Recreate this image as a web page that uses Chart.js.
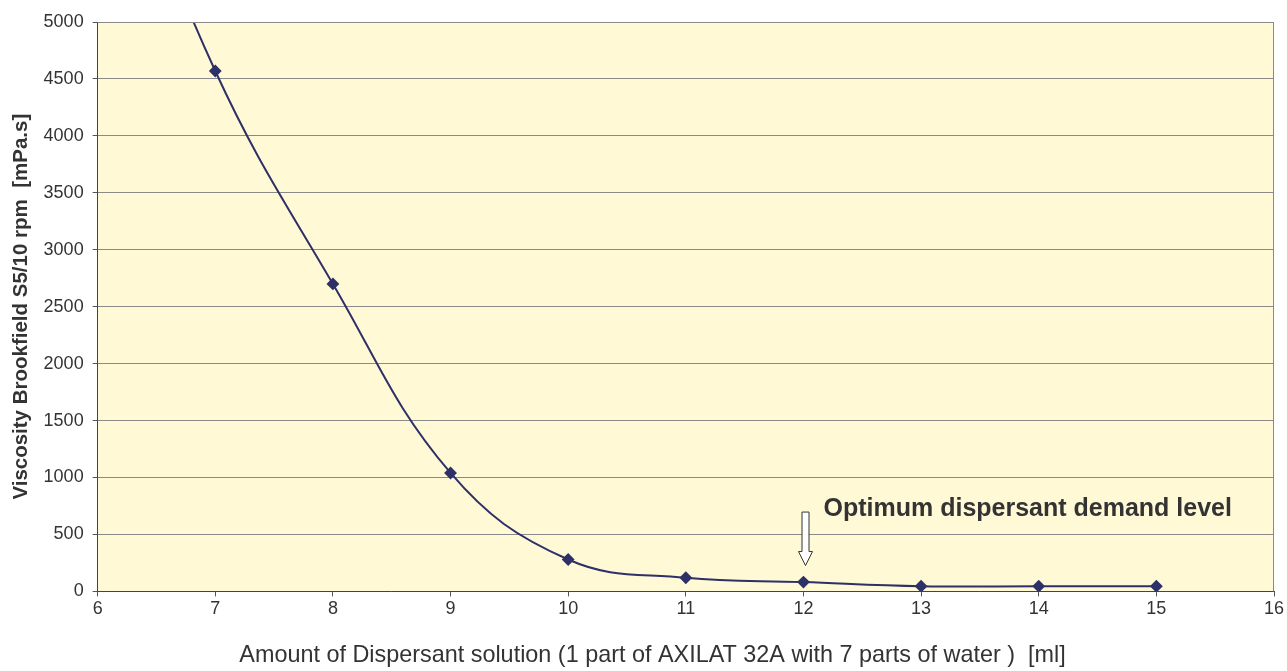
<!DOCTYPE html>
<html>
<head>
<meta charset="utf-8">
<script src="https://cdn.jsdelivr.net/npm/chart.js@4.4.0/dist/chart.umd.min.js"></script>
<style>
  html, body { margin: 0; padding: 0; background: #fff; }
  #wrap { width: 1287px; height: 671px; }
</style>
</head>
<body>
<div id="wrap"><canvas id="viscosity_chart" width="1287" height="671"></canvas></div>
<script>
// data
const dispersantMl = [6, 7, 8, 9, 10, 11, 12, 13, 14, 15];
const viscosity = [7200, 4570, 2700, 1040, 280, 120, 82, 45, 45, 45];
const yTitle = 'Viscosity Brookfield S5/10 rpm  [mPa.s]';
const xTitle = 'Amount of Dispersant solution (1 part of AXILAT 32A with 7 parts of water )  [ml]';
const noteText = 'Optimum dispersant demand level';
const noteAt = 12;

const points = dispersantMl.map((x, i) => ({x: x, y: viscosity[i]}));
const fam = '"Liberation Sans", Arial, sans-serif';

// yellow plot background + grey frame
const plotBg = {
    id: 'plotBg',
    beforeDraw(chart) {
        const a = chart.chartArea, c = chart.ctx;
        c.save();
        c.fillStyle = '#FFF9D6';
        c.fillRect(a.left, a.top, a.right - a.left, a.bottom - a.top);
        c.restore();
    },
    afterDatasetsDraw(chart) {
        const a = chart.chartArea, c = chart.ctx;
        c.save();
        c.strokeStyle = '#8a8a8a';
        c.lineWidth = 1;
        c.beginPath();
        c.moveTo(a.left, a.top + 0.5);
        c.lineTo(a.right - 0.5, a.top + 0.5);
        c.lineTo(a.right - 0.5, a.bottom);
        c.stroke();
        c.restore();
    }
};

// x axis title sits a bit left of the plot centre in the original, so draw it here
const xAxisTitle = {
    id: 'xAxisTitle',
    afterDraw(chart) {
        const c = chart.ctx;
        c.save();
        c.fillStyle = '#333333';
        c.font = '23.4px ' + fam;
        c.textAlign = 'center';
        c.textBaseline = 'middle';
        c.fillText(xTitle, chart.width / 2 + 9, chart.height - 15);
        c.restore();
    }
};

// arrow + label for the optimum level
const optimumNote = {
    id: 'optimumNote',
    afterDraw(chart) {
        const xs = chart.scales.x, ys = chart.scales.y, c = chart.ctx;
        const idx = dispersantMl.indexOf(noteAt);
        const px = Math.round(xs.getPixelForValue(noteAt)) + 2.5;
        const tip = ys.getPixelForValue(viscosity[idx]) - 16.5;
        c.save();
        c.fillStyle = '#ffffff';
        c.strokeStyle = '#333333';
        c.lineWidth = 1;
        c.beginPath();
        c.moveTo(px - 3.5, tip - 53.5);
        c.lineTo(px + 3.5, tip - 53.5);
        c.lineTo(px + 3.5, tip - 14);
        c.lineTo(px + 7, tip - 14);
        c.lineTo(px, tip);
        c.lineTo(px - 7, tip - 14);
        c.lineTo(px - 3.5, tip - 14);
        c.closePath();
        c.fill();
        c.stroke();
        c.fillStyle = '#333333';
        c.font = 'bold 25px ' + fam;
        c.textBaseline = 'alphabetic';
        c.fillText(noteText, px + 18, tip - 50);
        c.restore();
    }
};

const chart1 = document.getElementById('viscosity_chart');

new Chart(chart1, {
    type: 'line',
    data: {
        datasets: [{
            label: 'Viscosity',
            data: points,
            borderColor: '#2E3068',
            backgroundColor: '#2E3068',
            borderWidth: 2,
            tension: 0.4,
            pointStyle: 'rectRot',
            pointRadius: 5,
            pointHoverRadius: 5
        }]
    },
    options: {
        responsive: false,
        animation: false,
        events: [],
        layout: { padding: { top: 22, right: 13, bottom: 49, left: 9 } },
        plugins: {
            legend: { display: false },
            tooltip: { enabled: false }
        },
        scales: {
            x: {
                type: 'linear',
                min: 6,
                max: 16,
                ticks: {
                    stepSize: 1,
                    color: '#333',
                    padding: 2,
                    callback: v => String(v),
                    font: { family: fam, size: 18 }
                },
                grid: {
                    drawOnChartArea: false,
                    drawTicks: true,
                    tickLength: 5,
                    color: '#555'
                },
                border: { color: '#444', width: 1 },
                title: { display: false }
            },
            y: {
                min: 0,
                max: 5000,
                ticks: {
                    stepSize: 500,
                    color: '#333',
                    padding: 9,
                    callback: v => String(v),
                    font: { family: fam, size: 18 }
                },
                grid: {
                    color: '#8a8a8a',
                    tickLength: 5,
                    tickColor: '#555'
                },
                border: { color: '#444', width: 1 },
                title: {
                    display: true,
                    text: yTitle,
                    color: '#333',
                    padding: { top: 0, bottom: 1 },
                    font: { family: fam, size: 20.5, weight: 'bold' }
                }
            }
        }
    },
    plugins: [plotBg, xAxisTitle, optimumNote]
});
</script>
</body>
</html>
